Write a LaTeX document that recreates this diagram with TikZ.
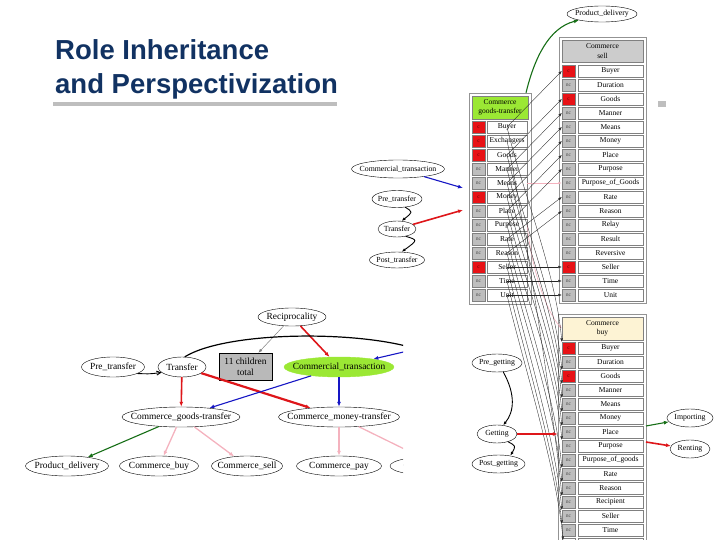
\documentclass[tikz,border=0pt]{standalone}
\usepackage{fontspec}
\setmainfont{Liberation Serif}
\newfontfamily\titlefont{Liberation Sans}
\usepackage{xcolor}
\usetikzlibrary{arrows.meta, positioning, shapes.geometric, calc}

\definecolor{titleblue}{RGB}{17,50,98}
\definecolor{rulegray}{RGB}{190,190,190}
\definecolor{corered}{RGB}{232,18,22}
\definecolor{ncgray}{RGB}{190,190,190}
\definecolor{hdrgreen}{RGB}{155,232,52}
\definecolor{hdrgray}{RGB}{204,204,204}
\definecolor{hdrcream}{RGB}{253,243,212}
\definecolor{edgered}{RGB}{222,22,26}
\definecolor{edgeblue}{RGB}{22,22,196}
\definecolor{edgegreen}{RGB}{22,110,22}
\definecolor{linkpink}{RGB}{244,178,190}

\begin{document}
\begin{tikzpicture}[x=1pt, y=-1pt,
  role/.style={ellipse, draw, fill=white, inner xsep=-14pt, inner ysep=0pt, minimum height=17, font=\fontsize{7.8}{9}\selectfont},
  bigrole/.style={role, minimum height=20, font=\fontsize{9.4}{11}\selectfont},
  frame/.style={draw=gray!85, fill=white, inner sep=0pt},
  header/.style={draw=gray, align=center, inner sep=0pt, font=\fontsize{7.5}{9.5}\selectfont},
  flag/.style={draw=gray, minimum width=13, minimum height=12, inner sep=0pt, font=\fontsize{5.5}{6}\selectfont},
  fe/.style={draw=gray, fill=white, minimum height=12, inner sep=0pt, font=\fontsize{7.5}{8}\selectfont},
  link/.style={draw=black!85, line width=0.35pt, -{Latex[length=3.5pt,width=2.6pt]}},
  pinklink/.style={link, draw=linkpink, line width=0.6pt},
  blk/.style={black, line width=0.9pt, -{Latex[length=4pt,width=3pt]}},
  rededge/.style={draw=edgered, line width=1.6pt, -{Latex[length=5pt,width=4pt]}},
  blueedge/.style={draw=edgeblue, line width=1.1pt, -{Latex[length=5pt,width=4pt]}},
  greenedge/.style={draw=edgegreen, line width=1.1pt, -{Latex[length=5pt,width=4pt]}},
  pinkedge/.style={draw=linkpink, line width=1.3pt, -{Latex[length=5pt,width=4pt]}}
]
\useasboundingbox (0,0) rectangle (720,540);
\clip (0,0) rectangle (720,540);

% title
\node[anchor=base west, inner sep=0pt, text=titleblue, font=\titlefont\bfseries\fontsize{27.5}{30}\selectfont] (title1) at (55,59.3) {Role Inheritance};
\node[anchor=base west, inner sep=0pt, text=titleblue, font=\titlefont\bfseries\fontsize{27.5}{30}\selectfont] (title2) at (55,94) {and Perspectivization};
\draw[rulegray, line width=4.5pt] (53,104) -- (337,104);
\fill[rulegray] (658,101) rectangle (666,107);

% Commerce goods-transfer
\node[frame, minimum width=62, minimum height=211] (gtbox) at (500,198.5) {};
\node[header, fill=hdrgreen, minimum width=56, minimum height=23] (gt-h) at (500,107.5) {Commerce\\goods-transfer};
\foreach \lab/\col/\fl [count=\i] in {Buyer/corered/c, Exchangers/corered/c, Goods/corered/c, Manner/ncgray/nc, Means/ncgray/nc, Money/corered/c, Place/ncgray/nc, Purpose/ncgray/nc, Rate/ncgray/nc, Reason/ncgray/nc, Seller/corered/c, Time/ncgray/nc, Unit/ncgray/nc} {
  \node[flag, fill=\col, text=\col!40!black] (gt-sq-\i) at (478.5, 113+14*\i) {\fl};
  \node[fe, minimum width=40] (gt-\i) at (507, 113+14*\i) {\lab};
}

% Commerce sell
\node[frame, minimum width=87, minimum height=266] (slbox) at (602.5,170) {};
\node[header, fill=hdrgray, minimum width=81, minimum height=22] (sl-h) at (602.5,51) {Commerce\\sell};
\foreach \lab/\col/\fl [count=\i] in {Buyer/corered/c, Duration/ncgray/nc, Goods/corered/c, Manner/ncgray/nc, Means/ncgray/nc, Money/ncgray/nc, Place/ncgray/nc, Purpose/ncgray/nc, Purpose\_of\_Goods/ncgray/nc, Rate/ncgray/nc, Reason/ncgray/nc, Relay/ncgray/nc, Result/ncgray/nc, Reversive/ncgray/nc, Seller/corered/c, Time/ncgray/nc, Unit/ncgray/nc} {
  \node[flag, fill=\col, text=\col!40!black] (sl-sq-\i) at (568.5, 57+14*\i) {\fl};
  \node[fe, minimum width=65] (sl-\i) at (610.5, 57+14*\i) {\lab};
}

% Commerce buy
\node[frame, minimum width=88, minimum height=232] (bybox) at (602,430) {};
\node[header, fill=hdrcream, minimum width=81, minimum height=23] (by-h) at (602.5,328.5) {Commerce\\buy};
\foreach \lab/\col/\fl [count=\i] in {Buyer/corered/c, Duration/ncgray/nc, Goods/corered/c, Manner/ncgray/nc, Means/ncgray/nc, Money/ncgray/nc, Place/ncgray/nc, Purpose/ncgray/nc, Purpose\_of\_goods/ncgray/nc, Rate/ncgray/nc, Reason/ncgray/nc, Recipient/ncgray/nc, Seller/ncgray/nc, Time/ncgray/nc} {
  \node[flag, fill=\col, text=\col!40!black] (by-sq-\i) at (568.5, 334+14*\i) {\fl};
  \node[fe, minimum width=65] (by-\i) at (610.5, 334+14*\i) {\lab};
}
\draw[draw=gray] (562,538) rectangle (575,550) (578,538) rectangle (643,550);
\coordinate (by-end) at (563,540);

% role links
\draw[pinklink] (gt-5.east) -- (sl-sq-9.west);
\draw[pinklink] (gt-8.east) .. controls (531,265) and (545,310) .. (by-h.west);
\foreach \a/\b in {1/1, 3/3, 4/4, 5/5, 6/6, 7/7, 8/8, 9/10, 10/11, 11/15, 12/16, 13/17}
  \draw[link] (gt-\a.center) -- (sl-sq-\b.west);
\foreach \a/\b in {1/1, 2/12, 3/3, 4/4, 5/5, 6/6, 7/7, 8/8, 9/10, 10/11, 11/13, 12/14}
  \draw[link] (gt-\a.center) .. controls +(14,60) and +(-6,-70) .. (by-sq-\b.north west);
\draw[link] (gt-13.center) .. controls +(14,60) and +(-6,-70) .. (by-end);

% frames around goods-transfer
\node[role, minimum width=70, minimum height=16] (pd) at (602,14) {Product\_delivery};
\draw[greenedge] ([xshift=26pt]gtbox.north) .. controls (534,60) and (548,28) .. (pd.195);
\node[role, minimum width=93, minimum height=18] (ct) at (398,169) {Commercial\_transaction};
\node[role, minimum width=50] (pt) at (397,199) {Pre\_transfer};
\node[role, minimum width=38, minimum height=16] (tr) at (397,229) {Transfer};
\node[role, minimum width=55, minimum height=16] (pot) at (397,260) {Post\_transfer};
\coordinate (gtin1) at (463,188);
\coordinate (gtin2) at (463,210);
\draw[blueedge] (ct) -- (gtin1);
\draw[rededge] (tr) -- (gtin2);
\draw[blk] (pt.-45) .. controls (413,212) .. (tr.60);
\draw[blk] (tr.-40) .. controls (418,240) .. (pot.60);

% frames around buy
\node[role, minimum width=50, minimum height=18] (pg) at (497,363) {Pre\_getting};
\node[role, minimum width=40, minimum height=18] (get) at (497,434) {Getting};
\node[role, minimum width=53, minimum height=18] (pog) at (498.5,464) {Post\_getting};
\node[role, minimum width=46, minimum height=18] (imp) at (690,418) {Importing};
\node[role, minimum width=40, minimum height=18] (ren) at (690,449) {Renting};
\coordinate (impfrom) at (646,426);
\coordinate (renfrom) at (646,442);
\draw[rededge] (get) -- (bybox.west |- get);
\draw[blk] (pg.-55) .. controls (516,395) and (514,412) .. (get.55);
\draw[blk] (get.-35) .. controls (516,446) .. (pog.35);
\draw[greenedge] (impfrom) -- (imp);
\draw[rededge] (renfrom) -- (ren);

% frame hierarchy
\begin{scope}
\clip (20,296) rectangle (403,495);
\node[bigrole, minimum width=68, minimum height=18] (rec) at (292,317) {Reciprocality};
\node[bigrole, minimum width=63] (bpt) at (113,367) {Pre\_transfer};
\node[bigrole, minimum width=48] (btr) at (182,367) {Transfer};
\node[draw, fill=gray!55, align=center, inner sep=0pt, minimum width=53, minimum height=27, font=\fontsize{9.4}{11}\selectfont] (kids) at (245.5,366.5) {11 children\\total};
\node[bigrole, draw=hdrgreen, fill=hdrgreen, minimum width=110] (bct) at (339,367) {Commercial\_transaction};
\node[bigrole, minimum width=118] (bgt) at (181,417) {Commerce\_goods-transfer};
\node[bigrole, minimum width=121] (bmt) at (339,417) {Commerce\_money-transfer};
\node[bigrole, minimum width=83] (bpd) at (67,466) {Product\_delivery};
\node[bigrole, minimum width=79] (bbuy) at (159,466) {Commerce\_buy};
\node[bigrole, minimum width=71] (bsell) at (247,466) {Commerce\_sell};
\node[bigrole, minimum width=85] (bpay) at (339,466) {Commerce\_pay};
\node[bigrole, minimum width=98] (bcol) at (439,466) {Commerce\_collect};
\coordinate (arcend) at (425,352);
\coordinate (bfrom) at (425,347);
\draw[draw=gray, line width=0.5pt, -{Latex[length=4pt,width=3pt]}] (rec) -- (kids);
\draw[rededge] (rec) -- (bct);
\draw[black, line width=1.2pt] (btr.75) .. controls (228,330) and (370,330) .. (arcend);
\draw[blueedge] (bfrom) -- (bct);
\draw[black, line width=0.9pt, -{Straight Barb[length=4pt,width=4pt]}] (bpt.-15) .. controls (150,374) .. (btr.195);
\draw[rededge] (btr) -- (bgt);
\draw[rededge, line width=2.2pt] (btr) -- (bmt);
\draw[blueedge] (bct) -- (bgt);
\draw[blueedge] (bct) -- (bmt);
\draw[greenedge] (bgt) -- (bpd);
\draw[pinkedge] (bgt) -- (bbuy);
\draw[pinkedge] (bgt) -- (bsell);
\draw[pinkedge] (bmt) -- (bpay);
\draw[pinkedge] (bmt) -- (bcol);
\end{scope}
\end{tikzpicture}
\end{document}
